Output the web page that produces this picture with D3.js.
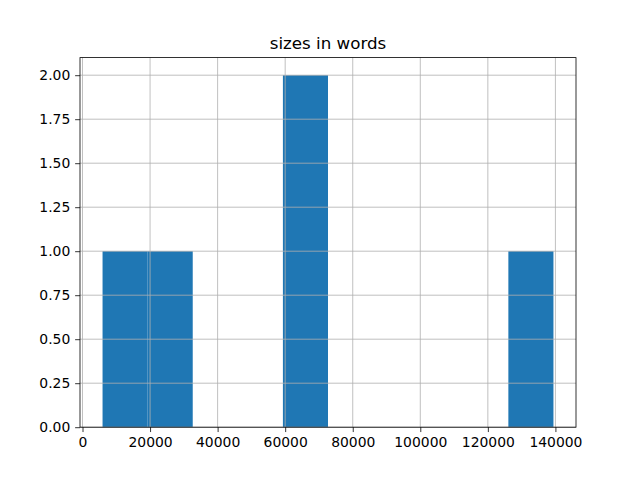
<!DOCTYPE html>
<html><head><meta charset="utf-8">
<script src="https://cdn.jsdelivr.net/npm/d3@7"></script>
<style>body{margin:0;background:#fff}svg{display:block}text{font-family:"DejaVu Sans",sans-serif}</style>
</head><body><svg id="c" width="640" height="480"></svg>
<script>
const title = "sizes in words";
const wordCounts = [5933, 21000, 62000, 66000, 139420];
const binCount = 10;
const xTicks = [0, 20000, 40000, 60000, 80000, 100000, 120000, 140000];
const yTicks = [0, 0.25, 0.5, 0.75, 1.0, 1.25, 1.5, 1.75, 2.0];

const svg = d3.select("#c");
const L = 80, R = 576, T = 57.6, B = 427.2;
const lo = d3.min(wordCounts), hi = d3.max(wordCounts);
const w = (hi - lo) / binCount;
const thresholds = d3.range(1, binCount).map(i => lo + i * w);
const bins = d3.bin().domain([lo, hi]).thresholds(thresholds)(wordCounts);
const pad = (hi - lo) * 0.05;
const x = d3.scaleLinear().domain([lo - pad, hi + pad]).range([L, R]);
const ymax = d3.max(bins, b => b.length) * 1.05;
const y = d3.scaleLinear().domain([0, ymax]).range([B, T]);

svg.append("g").selectAll("rect").data(bins.filter(b => b.length > 0)).join("rect")
  .attr("x", d => x(d.x0)).attr("width", d => x(d.x1) - x(d.x0))
  .attr("y", d => y(d.length)).attr("height", d => y(0) - y(d.length))
  .attr("fill", "#1f77b4");

// grid
const grid = svg.append("g").attr("stroke", "#b0b0b0").attr("stroke-width", 0.8);
xTicks.forEach(t => grid.append("line").attr("x1", x(t)).attr("x2", x(t)).attr("y1", T).attr("y2", B));
yTicks.forEach(t => grid.append("line").attr("x1", L).attr("x2", R).attr("y1", y(t)).attr("y2", y(t)));

const xAxis = d3.axisBottom(x).tickValues(xTicks).tickFormat(d3.format("d")).tickSizeInner(4.86).tickSizeOuter(0).tickPadding(4.86);
const gx = svg.append("g").attr("transform", `translate(0,${B})`).call(xAxis);
const yAxis = d3.axisLeft(y).tickValues(yTicks).tickFormat(d3.format(".2f")).tickSizeInner(4.86).tickSizeOuter(0).tickPadding(4.86);
const gy = svg.append("g").attr("transform", `translate(${L},0)`).call(yAxis);
[gx, gy].forEach(g => {
  g.select(".domain").remove();
  g.selectAll(".tick line").attr("stroke", "#000").attr("stroke-width", 0.8);
  g.selectAll(".tick text").attr("font-size", 13.9).attr("fill", "#000").attr("font-family", "DejaVu Sans");
});

svg.append("rect").attr("x", L).attr("y", T).attr("width", R - L).attr("height", B - T)
  .attr("fill", "none").attr("stroke", "#000").attr("stroke-width", 0.8);

svg.append("text").attr("x", (L + R) / 2).attr("y", T - 8.3).attr("text-anchor", "middle")
  .attr("font-size", 16.7).attr("fill", "#000").text(title);
</script></body></html>
